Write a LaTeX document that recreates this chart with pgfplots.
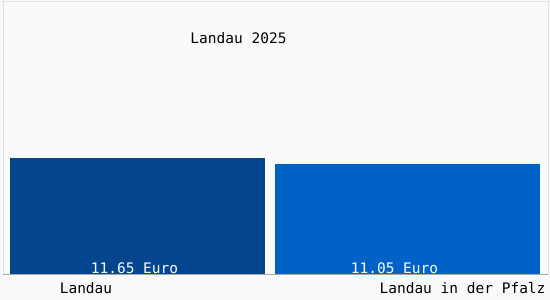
\documentclass[border=0pt]{standalone}
\usepackage{pgfplots}
\pgfplotsset{compat=1.18}
\usepackage{fontspec}
\setmainfont{DejaVu Sans Mono}
\definecolor{bg}{HTML}{FAFAFA}
\definecolor{barA}{HTML}{03468F}
\definecolor{barB}{HTML}{0062C6}
\definecolor{frame}{HTML}{E2E2E2}
\definecolor{base}{HTML}{A8A8A8}
\begin{document}
\begin{tikzpicture}[x=1pt,y=1pt]
\fill[bg] (0,0) rectangle (550,300);
\path[use as bounding box] (0,0) rectangle (550,300);
\begin{axis}[
  at={(3pt,26pt)}, anchor=south west,
  scale only axis, width=545pt, height=273pt,
  xmin=3, xmax=548, ymin=0, ymax=27.41,
  axis line style={frame},
  ticks=none, clip=false,
  font=\fontsize{14.5}{16}\selectfont,
]
\addplot[ybar, bar width=255, bar shift=0pt, fill=barA, draw=none] coordinates {(137.5,11.65)};
\addplot[ybar, bar width=265, bar shift=0pt, fill=barB, draw=none] coordinates {(407.5,11.05)};
\draw[base] (axis cs:3,0) -- (axis cs:548,0);
\node[white] at (axis cs:134.5,0.62) {11.65 Euro};
\node[white] at (axis cs:394.5,0.62) {11.05 Euro};
\node[black] at (axis cs:86,-1.42) {Landau};
\node[black, anchor=east] at (axis cs:549,-1.42) {Landau in der Pfalz};
\node[black] at (axis cs:238.5,23.7) {Landau 2025};
\end{axis}
\end{tikzpicture}
\end{document}
